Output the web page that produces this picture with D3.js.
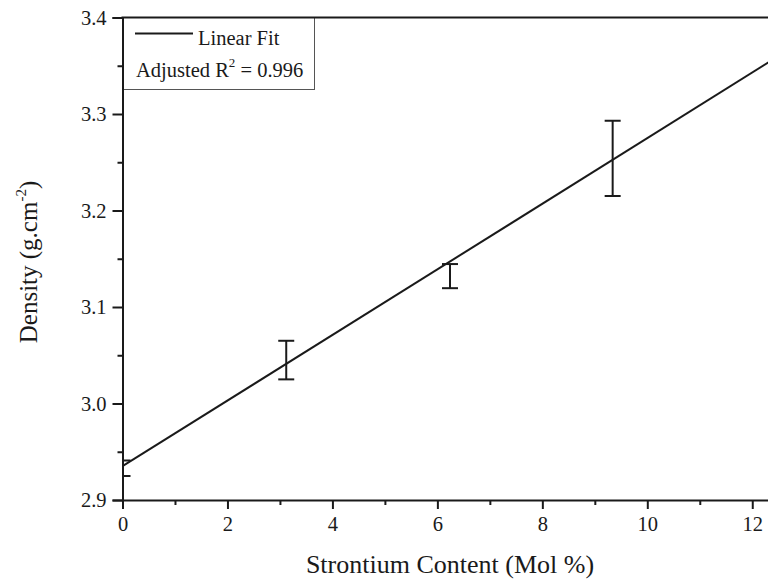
<!DOCTYPE html>
<html>
<head>
<meta charset="utf-8">
<script src="https://cdn.jsdelivr.net/npm/d3@7"></script>
<style>
  html, body { margin: 0; padding: 0; background: #fff; overflow: hidden; }
  svg { display: block; font-family: "Liberation Serif", "Times New Roman", serif; }
</style>
</head>
<body>
<svg id="chart" width="768" height="583"></svg>
<script>
// ---- data ----
const strontium = [0, 3.12, 6.24, 9.34];
const density   = [2.933, 3.045, 3.132, 3.254];
const densityErr = [0.008, 0.020, 0.0125, 0.039];
const fitIntercept = 2.935;
const fitSlope = 0.034;
const xTicks = [0, 2, 4, 6, 8, 10, 12];
const yTicks = [2.9, 3.0, 3.1, 3.2, 3.3, 3.4];
const xTitle = "Strontium Content (Mol %)";
const legendFit = "Linear Fit";
const adjR2 = "0.996";

const svg = d3.select("#chart");
const ink = "#1a1a1a";
const pLeft = 122.5, pRight = 778.5, pTop = 17.5, pBottom = 500;

const x = d3.scaleLinear().domain([0, 12.5]).range([pLeft, pRight]);
const y = d3.scaleLinear().domain([2.9, 3.4]).range([pBottom, pTop]);

// clip for plot area
svg.append("defs").append("clipPath").attr("id", "plotclip")
  .append("rect").attr("x", pLeft).attr("y", pTop).attr("width", pRight - pLeft).attr("height", pBottom - pTop);

// plot group
const plot = svg.append("g").attr("clip-path", "url(#plotclip)");

// fit line
const fitLine = d3.line().x(d => x(d)).y(d => y(fitIntercept + fitSlope * d));
plot.append("path").datum([0, 12.5]).attr("d", fitLine)
  .attr("fill", "none").attr("stroke", ink).attr("stroke-width", 2);

// error bars
const pts = strontium.map((s, i) => ({s, d: density[i], e: densityErr[i]}));
const capW = 8;
const eb = plot.selectAll(".eb").data(pts).join("g").attr("class", "eb");
eb.append("line").attr("x1", d => x(d.s)).attr("x2", d => x(d.s))
  .attr("y1", d => y(d.d - d.e)).attr("y2", d => y(d.d + d.e))
  .attr("stroke", ink).attr("stroke-width", 2);
eb.append("line").attr("x1", d => x(d.s) - capW).attr("x2", d => x(d.s) + capW)
  .attr("y1", d => y(d.d + d.e)).attr("y2", d => y(d.d + d.e))
  .attr("stroke", ink).attr("stroke-width", 2);
eb.append("line").attr("x1", d => x(d.s) - capW).attr("x2", d => x(d.s) + capW)
  .attr("y1", d => y(d.d - d.e)).attr("y2", d => y(d.d - d.e))
  .attr("stroke", ink).attr("stroke-width", 2);

// legend
const lg = svg.append("g");
lg.append("rect").attr("x", pLeft).attr("y", pTop).attr("width", 192).attr("height", 72)
  .attr("fill", "#fff").attr("stroke", "#555").attr("stroke-width", 1);
lg.append("line").attr("x1", 135).attr("x2", 193).attr("y1", 33.5).attr("y2", 33.5)
  .attr("stroke", ink).attr("stroke-width", 2);
lg.append("text").attr("x", 198).attr("y", 45).attr("font-size", 20.5).attr("fill", ink).text(legendFit);
const r2 = lg.append("text").attr("x", 136).attr("y", 77).attr("font-size", 20.5).attr("fill", ink);
r2.append("tspan").text("Adjusted R");
r2.append("tspan").attr("font-size", 13).attr("dy", -10).text("2");
r2.append("tspan").attr("dy", 10).text(" = " + adjR2);

// minor ticks
const xMinor = d3.range(1, 13, 2);
const yMinor = [2.95, 3.05, 3.15, 3.25, 3.35];

// x axis
const xAxis = svg.append("g").attr("transform", `translate(0,${pBottom})`)
  .call(d3.axisBottom(x).tickValues(xTicks).tickFormat(d3.format("d")).tickSizeOuter(0).tickSize(9).tickPadding(7));
xAxis.select(".domain").attr("stroke", ink).attr("stroke-width", 2);
xAxis.selectAll(".tick line").attr("stroke", ink).attr("stroke-width", 2);
xAxis.selectAll(".tick text").attr("font-size", 20.5).attr("fill", ink).attr("font-family", "Liberation Serif");
svg.append("g").attr("transform", `translate(0,${pBottom})`)
  .call(d3.axisBottom(x).tickValues(xMinor).tickFormat("").tickSizeOuter(0).tickSize(5))
  .call(g => g.select(".domain").remove())
  .selectAll(".tick line").attr("stroke", ink).attr("stroke-width", 2);

// y axis
const yAxis = svg.append("g").attr("transform", `translate(${pLeft},0)`)
  .call(d3.axisLeft(y).tickValues(yTicks).tickFormat(d3.format(".1f")).tickSizeOuter(0).tickSize(10).tickPadding(6));
yAxis.select(".domain").attr("stroke", ink).attr("stroke-width", 2);
yAxis.selectAll(".tick line").attr("stroke", ink).attr("stroke-width", 2);
yAxis.selectAll(".tick text").attr("font-size", 20.5).attr("fill", ink).attr("font-family", "Liberation Serif");
svg.append("g").attr("transform", `translate(${pLeft},0)`)
  .call(d3.axisLeft(y).tickValues(yMinor).tickFormat("").tickSizeOuter(0).tickSize(5))
  .call(g => g.select(".domain").remove())
  .selectAll(".tick line").attr("stroke", ink).attr("stroke-width", 2);

// top frame line
svg.append("line").attr("x1", pLeft - 1).attr("x2", pRight).attr("y1", pTop).attr("y2", pTop)
  .attr("stroke", ink).attr("stroke-width", 2);

// axis titles
svg.append("text").attr("x", 450).attr("y", 573).attr("text-anchor", "middle")
  .attr("font-size", 26).attr("fill", ink).text(xTitle);
const yt = svg.append("text").attr("transform", "translate(37,262) rotate(-90)")
  .attr("text-anchor", "middle").attr("font-size", 25).attr("fill", ink);
yt.append("tspan").text("Density (g.cm");
yt.append("tspan").attr("font-size", 15).attr("dy", -11).text("-2");
yt.append("tspan").attr("dy", 11).text(")");
</script>
</body>
</html>
